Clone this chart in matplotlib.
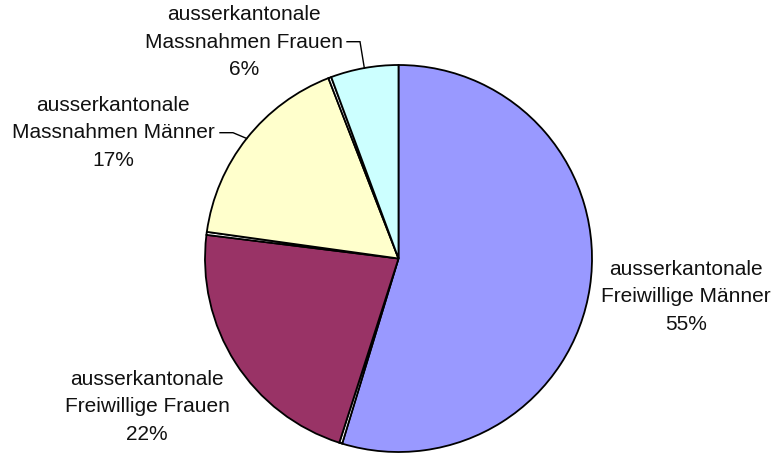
import numpy as np
import matplotlib
matplotlib.use("Agg")
import matplotlib.pyplot as plt

plt.rcParams['font.family'] = ['Liberation Sans', 'DejaVu Sans']

# Data (clockwise from top); tiny unlabeled slices sit between the main ones
categories = ["ausserkantonale\nFreiwillige Männer", "",
              "ausserkantonale\nFreiwillige Frauen", "",
              "ausserkantonale\nMassnahmen Männer", "",
              "ausserkantonale\nMassnahmen Frauen"]
values = [54.7, 0.25, 22.0, 0.25, 16.9, 0.25, 5.65]
colors = ["#9999FF", "#FFFFFF", "#993366", "#FFFFFF", "#FFFFCC", "#FFFFFF", "#CCFFFF"]

W, H = 778, 455
fig = plt.figure(figsize=(W / 100, H / 100), dpi=100)
ax = fig.add_axes([0, 0, 1, 1])

cx, cy, r = 398.5, H - 258.5, 193.5
wedges, _ = ax.pie(values, colors=colors, startangle=90, counterclock=False,
                   center=(cx, cy), radius=r,
                   wedgeprops=dict(edgecolor="black", linewidth=1.3))
ax.set_xlim(0, W)
ax.set_ylim(0, H)
ax.set_aspect("equal")
ax.axis("off")

total = sum(values)
# label layout: (index, text center x, text center y [px from top], leader elbow, leader end)
layout = [
    (0, 686, 297, None),
    (2, 147, 407, None),
    (4, 113, 133, ((233, 132.7), (220, 132.7))),
    (6, 244, 42, ((360, 41.7), (347, 41.7))),
]
for idx, tx, ty, leader in layout:
    pct = round(values[idx] / total * 100)
    ax.text(tx, H - ty, f"{categories[idx]}\n{pct}%", ha="center", va="center",
            fontsize=15.0, linespacing=1.55, color="#111111")
    if leader is not None:
        w = wedges[idx]
        ang = np.deg2rad((w.theta1 + w.theta2) / 2)
        ex, ey = cx + r * np.cos(ang), cy + r * np.sin(ang)
        (bx, by), (lx, ly) = leader
        ax.plot([ex, bx, lx], [ey, H - by, H - ly], color="black", lw=1.0,
                solid_joinstyle="miter")

fig.savefig("out.png", dpi=100, facecolor="white")
